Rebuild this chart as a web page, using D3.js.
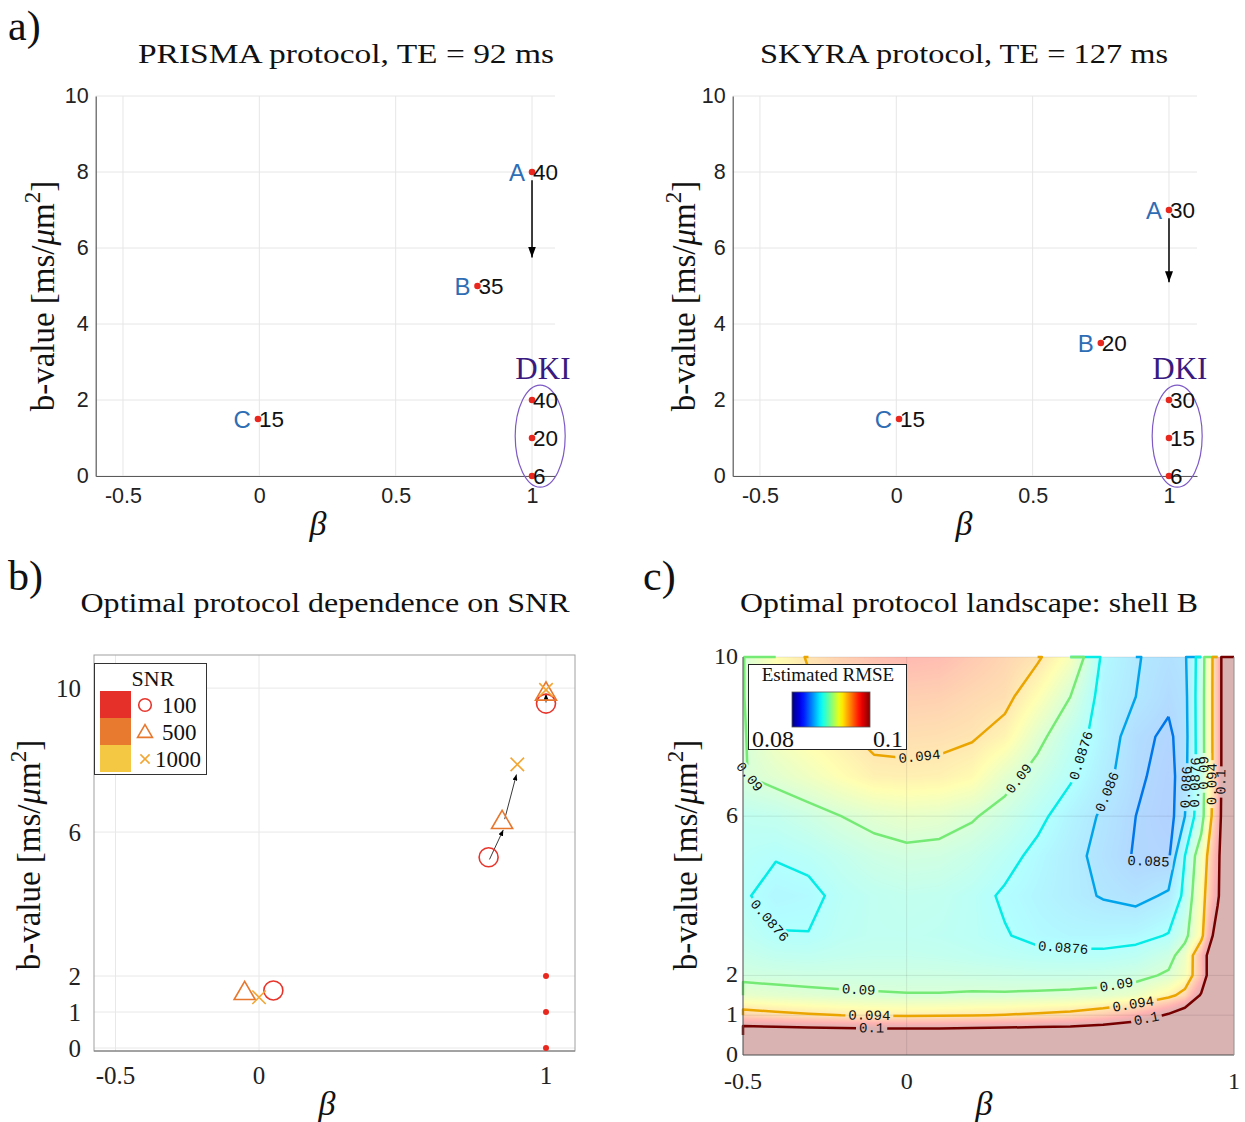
<!DOCTYPE html>
<html>
<head>
<meta charset="utf-8">
<script src="https://cdn.jsdelivr.net/npm/d3@7/dist/d3.min.js"></script>
<style>
html,body{margin:0;padding:0;background:#fff;}
svg{display:block;}
</style>
</head>
<body>
<svg id="fig" width="1245" height="1122" xmlns="http://www.w3.org/2000/svg"></svg>
<script>
// ================= DATA =================
// a) PRISMA protocol (beta, b-value, number of directions)
const prismaShell = ["A", "B", "C", "", "", ""];
const prismaBeta  = [1.0, 0.80, -0.005, 1.0, 1.0, 1.0];
const prismaB     = [8.0, 5.0, 1.5, 2.0, 1.0, 0.0];
const prismaDirs  = [40, 35, 15, 40, 20, 6];
const prismaArrow = [[1.0, 7.78], [1.0, 5.75]];
// a) SKYRA protocol
const skyraShell = ["A", "B", "C", "", "", ""];
const skyraBeta  = [1.0, 0.75, 0.01, 1.0, 1.0, 1.0];
const skyraB     = [7.0, 3.5, 1.5, 2.0, 1.0, 0.0];
const skyraDirs  = [30, 20, 15, 30, 15, 6];
const skyraArrow = [[1.0, 6.78], [1.0, 5.1]];
const dkiCentre   = [1.03, 1.05];
const dkiLabelPos = [1.04, 2.85];
const aTicksX = [-0.5, 0, 0.5, 1];
const aTicksY = [0, 2, 4, 6, 8, 10];

// b) optimal protocol vs SNR  (rows: SNR 100, 500, 1000; columns: shell C, B, A)
const snrLevels = [100, 500, 1000];
const snrBeta = [[0.05, 0.80, 1.0], [-0.05, 0.847, 1.0], [0.0, 0.90, 1.0]];
const snrB    = [[1.60, 5.30, 9.57], [1.56, 6.31, 9.88], [1.41, 7.88, 9.95]];
const dkiShellBeta = [1.0, 1.0, 1.0];
const dkiShellB    = [2.0, 1.0, 0.0];
const snrArrows = [[[0.803, 5.24], [0.851, 6.06]], [[0.856, 6.36], [0.897, 7.6]], [[1.0, 9.6], [1.0, 9.84]]];
const bTicksX = [-0.5, 0, 1];
const bTicksY = [0, 1, 2, 6, 10];

// c) estimated RMSE landscape for shell B
const landBeta = [-0.5, -0.4, -0.3, -0.2, -0.1, 0, 0.1, 0.2, 0.3, 0.4, 0.5, 0.6, 0.7, 0.8, 0.85, 0.9, 0.95, 1.0];
const landB    = [0, 0.5, 1, 1.5, 2, 2.5, 3, 4, 5, 6, 7, 8, 9, 10];
const rmseRows = [
  [0.1170,0.1170,0.1170,0.1170,0.1170,0.1170,0.1170,0.1170,0.1170,0.1170,0.1170,0.1180,0.1190,0.1210,0.1220,0.1240,0.1260,0.1300],
  [0.1040,0.1038,0.1036,0.1034,0.1032,0.1031,0.1032,0.1034,0.1036,0.1038,0.1040,0.1045,0.1055,0.1075,0.1090,0.1120,0.1160,0.1230],
  [0.0952,0.0947,0.0943,0.0940,0.0937,0.0936,0.0937,0.0939,0.0941,0.0944,0.0948,0.0958,0.0975,0.1005,0.1030,0.1070,0.1120,0.1200],
  [0.0910,0.0907,0.0905,0.0903,0.0902,0.0901,0.0901,0.0902,0.0902,0.0903,0.0904,0.0906,0.0912,0.0932,0.0950,0.1005,0.1090,0.1180],
  [0.0895,0.0894,0.0893,0.0893,0.0893,0.0893,0.0893,0.0892,0.0891,0.0890,0.0890,0.0891,0.0894,0.0903,0.0918,0.0965,0.1070,0.1160],
  [0.0889,0.0885,0.0884,0.0886,0.0887,0.0887,0.0886,0.0884,0.0882,0.0880,0.0879,0.0879,0.0882,0.0892,0.0912,0.0970,0.1060,0.1140],
  [0.0884,0.0877,0.08765,0.0882,0.0884,0.0884,0.0883,0.0881,0.0877,0.0872,0.0870,0.0870,0.0871,0.0877,0.0893,0.0930,0.1030,0.1130],
  [0.0878,0.0870,0.0872,0.0880,0.0884,0.0886,0.0885,0.0881,0.0874,0.0869,0.0864,0.0859,0.0856,0.0862,0.0880,0.0925,0.0990,0.1120],
  [0.0880,0.0877,0.0880,0.0886,0.0892,0.0895,0.0894,0.0889,0.0881,0.0872,0.0864,0.0856,0.0849,0.0848,0.0876,0.0915,0.0985,0.1120],
  [0.0884,0.0886,0.0892,0.0900,0.0906,0.0910,0.0908,0.0902,0.0892,0.0880,0.0868,0.0858,0.0850,0.0845,0.0860,0.0888,0.0970,0.1120],
  [0.0899,0.0906,0.0915,0.0925,0.0934,0.0935,0.0934,0.0928,0.0908,0.0892,0.0878,0.0864,0.0852,0.0846,0.0856,0.0886,0.0965,0.1120],
  [0.0898,0.0918,0.0928,0.0936,0.0945,0.0946,0.0945,0.0942,0.0932,0.0906,0.0885,0.0868,0.0853,0.0848,0.0855,0.0887,0.0965,0.1120],
  [0.0899,0.0922,0.0935,0.0942,0.0950,0.0956,0.0955,0.0950,0.0946,0.0925,0.0900,0.0868,0.0860,0.0852,0.0856,0.0887,0.0965,0.1120],
  [0.0899,0.0925,0.0942,0.0955,0.0965,0.0970,0.0968,0.0960,0.0952,0.0943,0.0920,0.0872,0.0861,0.0855,0.0858,0.0885,0.0965,0.1120]
];
const contourLevels = [0.085, 0.086, 0.0876, 0.09, 0.094, 0.1];
const contourLabels = ["0.085", "0.086", "0.0876", "0.09", "0.094", "0.1"];
const rmseRange = [0.08, 0.1];
const cTicksX = [-0.5, 0, 1];
const cTicksY = [0, 1, 2, 6, 10];

// ================= DRAWING =================
const svg = d3.select("#fig");
const SERIF = "'Liberation Serif','DejaVu Serif','Times New Roman',serif";
const SANS  = "'Liberation Sans',Arial,Helvetica,sans-serif";
const MONO  = "'Liberation Mono','DejaVu Sans Mono',monospace";
const defs = svg.append("defs");

function addMarker(id, w, h) {
  defs.append("marker").attr("id", id)
    .attr("viewBox", `0 0 ${w} ${h}`).attr("refX", w).attr("refY", h / 2)
    .attr("markerWidth", w).attr("markerHeight", h)
    .attr("markerUnits", "userSpaceOnUse").attr("orient", "auto")
    .append("path").attr("d", `M0,0 L${w},${h / 2} L0,${h} Z`).attr("fill", "#000");
}
addMarker("arrA", 11, 8);
addMarker("arrB", 6, 5);

function text(g, x, y, s, o = {}) {
  return g.append("text").attr("x", x).attr("y", y)
    .attr("font-family", o.family || SERIF).attr("font-size", o.size || 20)
    .attr("fill", o.fill || "#111").attr("text-anchor", o.anchor || "start")
    .attr("font-style", o.style || "normal")
    .attr("dominant-baseline", o.baseline || "auto").text(s);
}
function yLabel(x, y, size) {
  const t = svg.append("text").attr("transform", `translate(${x},${y}) rotate(-90)`)
    .attr("text-anchor", "middle").attr("font-family", SERIF).attr("font-size", size).attr("fill", "#111");
  t.append("tspan").text("b-value [ms/");
  t.append("tspan").attr("font-style", "italic").text("μ");
  t.append("tspan").text("m");
  t.append("tspan").attr("dy", -size * 0.42).attr("font-size", size * 0.7).text("2");
  t.append("tspan").attr("dy", size * 0.42).text("]");
}
function betaLabel(x, y) {
  text(svg, x, y, "β", {size: 34, style: "italic", anchor: "middle"});
}

// panel letters
text(svg, 8, 40, "a)", {size: 42});
text(svg, 8, 590, "b)", {size: 42});
text(svg, 643, 590, "c)", {size: 42});

// ---------- panel a ----------
function panelA(o) {
  const g = svg.append("g");
  const x = d3.scaleLinear().domain(o.xDom).range(o.xRange);
  const y = d3.scaleLinear().domain([0, 10]).range([476, 96]);
  g.append("g").selectAll("line").data(aTicksX).join("line")
    .attr("x1", d => x(d)).attr("x2", d => x(d)).attr("y1", y(0)).attr("y2", y(10))
    .attr("stroke", "#e6e6e6");
  g.append("g").selectAll("line").data(aTicksY).join("line")
    .attr("x1", o.xRange[0]).attr("x2", o.xRange[1]).attr("y1", d => y(d)).attr("y2", d => y(d))
    .attr("stroke", "#e6e6e6");
  const ax = g.append("g").attr("transform", `translate(0,${y(0)})`)
    .call(d3.axisBottom(x).tickValues(aTicksX).tickSize(0).tickSizeOuter(0).tickPadding(12).tickFormat(d => String(d)));
  const ay = g.append("g").attr("transform", `translate(${o.xRange[0]},0)`)
    .call(d3.axisLeft(y).tickValues(aTicksY).tickSize(0).tickSizeOuter(0).tickPadding(7).tickFormat(d => String(d)));
  [ax, ay].forEach(a => {
    a.select(".domain").attr("stroke", "#5a5a5a").attr("stroke-width", 1.2);
    a.selectAll("text").attr("font-family", SANS).attr("font-size", 21.5).attr("fill", "#222");
  });
  text(svg, o.titleX, 63, o.title, {size: 27, anchor: "middle"}).attr("textLength", o.titleW).attr("lengthAdjust", "spacingAndGlyphs");
  g.append("line").attr("x1", x(o.arrow[0][0])).attr("y1", y(o.arrow[0][1]))
    .attr("x2", x(o.arrow[1][0])).attr("y2", y(o.arrow[1][1]))
    .attr("stroke", "#000").attr("stroke-width", 1.5).attr("marker-end", "url(#arrA)");
  g.append("ellipse").attr("cx", x(dkiCentre[0])).attr("cy", y(dkiCentre[1]))
    .attr("rx", 25).attr("ry", 51).attr("fill", "none").attr("stroke", "#7d5ac6").attr("stroke-width", 1.2);
  text(g, x(dkiLabelPos[0]), y(dkiLabelPos[1]) + 11, "DKI", {size: 31, fill: "#3a1a80", anchor: "middle"});
  const pts = o.beta.map((b, i) => ({beta: b, b: o.b[i], shell: o.shell[i], n: o.dirs[i]}));
  g.selectAll("circle.pt").data(pts).join("circle").attr("class", "pt")
    .attr("cx", d => x(d.beta)).attr("cy", d => y(d.b)).attr("r", 3.3).attr("fill", "#e8281e");
  g.selectAll("text.sh").data(pts.filter(d => d.shell)).join("text").attr("class", "sh")
    .attr("x", d => x(d.beta) - 7).attr("y", d => y(d.b) + 8.5)
    .attr("text-anchor", "end").attr("font-family", SANS).attr("font-size", 24).attr("fill", "#2e6db4")
    .text(d => d.shell);
  g.selectAll("text.nd").data(pts).join("text").attr("class", "nd")
    .attr("x", d => x(d.beta) + 1).attr("y", d => y(d.b) + 8)
    .attr("font-family", SANS).attr("font-size", 22.5).attr("fill", "#111")
    .text(d => d.n);
  yLabel(o.yLabX, 296, 33);
  betaLabel(o.betaX, 535);
}
panelA({xDom: [-0.6, 1.0843], xRange: [95.7, 555], beta: prismaBeta, b: prismaB, shell: prismaShell, dirs: prismaDirs,
  arrow: prismaArrow, title: "PRISMA protocol, TE = 92 ms", titleX: 346, titleW: 416, yLabX: 54, betaX: 318});
panelA({xDom: [-0.6, 1.1027], xRange: [732.7, 1197], beta: skyraBeta, b: skyraB, shell: skyraShell, dirs: skyraDirs,
  arrow: skyraArrow, title: "SKYRA protocol, TE = 127 ms", titleX: 964, titleW: 408, yLabX: 695, betaX: 964});

// ---------- panel b ----------
(function () {
  const g = svg.append("g");
  const x = d3.scaleLinear().domain([-0.575, 1.101]).range([94, 575]);
  const y = d3.scaleLinear().domain([-0.083, 10.92]).range([1051, 655]);
  g.append("g").selectAll("line").data(bTicksX).join("line")
    .attr("x1", d => x(d)).attr("x2", d => x(d)).attr("y1", 655).attr("y2", 1051).attr("stroke", "#e8e8e8");
  g.append("g").selectAll("line").data(bTicksY).join("line")
    .attr("x1", 94).attr("x2", 575).attr("y1", d => y(d)).attr("y2", d => y(d)).attr("stroke", "#e8e8e8");
  g.append("rect").attr("x", 94).attr("y", 655).attr("width", 481).attr("height", 396)
    .attr("fill", "none").attr("stroke", "#a0a0a0").attr("stroke-width", 1);
  g.append("line").attr("x1", 94).attr("x2", 575).attr("y1", 1051).attr("y2", 1051).attr("stroke", "#777");
  g.selectAll("text.xt").data(bTicksX).join("text").attr("class", "xt")
    .attr("x", d => x(d)).attr("y", 1084).attr("text-anchor", "middle")
    .attr("font-family", SERIF).attr("font-size", 25).attr("fill", "#222").text(d => String(d));
  g.selectAll("text.yt").data(bTicksY).join("text").attr("class", "yt")
    .attr("x", 81).attr("y", d => y(d) + 8.5).attr("text-anchor", "end")
    .attr("font-family", SERIF).attr("font-size", 25).attr("fill", "#222").text(d => String(d));
  text(svg, 325, 612, "Optimal protocol dependence on SNR", {size: 27, anchor: "middle"}).attr("textLength", 489).attr("lengthAdjust", "spacingAndGlyphs");
  yLabel(40, 855, 33);
  betaLabel(327, 1115);

  const colors = ["#e8352b", "#e8772e", "#f2a735"];
  g.selectAll("line.arr").data(snrArrows).join("line").attr("class", "arr")
    .attr("x1", d => x(d[0][0])).attr("y1", d => y(d[0][1]))
    .attr("x2", d => x(d[1][0])).attr("y2", d => y(d[1][1]))
    .attr("stroke", "#222").attr("stroke-width", 0.9).attr("marker-end", "url(#arrB)");
  g.selectAll("circle.dki").data(dkiShellB).join("circle").attr("class", "dki")
    .attr("cx", (d, i) => x(dkiShellBeta[i])).attr("cy", d => y(d)).attr("r", 3).attr("fill", "#e8281e");
  function marker(sel, kind, size, color) {
    if (kind === 0) sel.append("circle").attr("r", size).attr("fill", "none").attr("stroke", color).attr("stroke-width", 1.6);
    else if (kind === 1) sel.append("path").attr("d", `M0,${-size * 0.62} L${size * 0.62},${size * 0.45} L${-size * 0.62},${size * 0.45} Z`)
      .attr("fill", "none").attr("stroke", color).attr("stroke-width", 1.6);
    else sel.append("path").attr("d", `M${-size * 0.42},${-size * 0.42} L${size * 0.42},${size * 0.42} M${-size * 0.42},${size * 0.42} L${size * 0.42},${-size * 0.42}`)
      .attr("fill", "none").attr("stroke", color).attr("stroke-width", 1.6);
  }
  const msize = [9.5, 17, 16];
  snrLevels.forEach((lev, k) => {
    snrBeta[k].forEach((bt, i) => {
      const m = g.append("g").attr("transform", `translate(${x(bt)},${y(snrB[k][i])})`);
      marker(m, k, msize[k], colors[k]);
    });
  });
  const L = g.append("g");
  L.append("rect").attr("x", 94.5).attr("y", 663.5).attr("width", 112).attr("height", 111)
    .attr("fill", "#fff").attr("stroke", "#333").attr("stroke-width", 1);
  text(L, 153, 686, "SNR", {size: 22, anchor: "middle"});
  const patch = ["#e5302a", "#e87a30", "#f5c844"];
  const lsize = [6.3, 12, 11];
  snrLevels.forEach((lev, k) => {
    L.append("rect").attr("x", 100).attr("y", 691 + k * 27).attr("width", 31).attr("height", 27).attr("fill", patch[k]);
    const m = L.append("g").attr("transform", `translate(145,${705 + k * 27})`);
    marker(m, k, lsize[k], colors[k]);
    text(L, k === 2 ? 155 : 162, 712.5 + k * 27, String(lev), {size: 23});
  });
})();

// ---------- panel c ----------
(function () {
  const g = svg.append("g");
  const X0 = 743, X1 = 1234, Y0 = 657, Y1 = 1055;
  const x = d3.scaleLinear().domain([-0.5, 1]).range([X0, X1]);
  const y = d3.scaleLinear().domain([0, 10]).range([Y1, Y0]);
  const nx = landBeta.length, ny = landB.length;
  const clamp01 = v => Math.max(0, Math.min(1, v));
  function jet(t) {
    t = clamp01(t);
    return [clamp01(1.5 - Math.abs(4 * t - 3)), clamp01(1.5 - Math.abs(4 * t - 2)), clamp01(1.5 - Math.abs(4 * t - 1))];
  }
  function sample(beta, bv) {
    let i = d3.bisectRight(landBeta, beta) - 1; i = Math.max(0, Math.min(nx - 2, i));
    let j = d3.bisectRight(landB, bv) - 1; j = Math.max(0, Math.min(ny - 2, j));
    const tx = clamp01((beta - landBeta[i]) / (landBeta[i + 1] - landBeta[i]));
    const ty = clamp01((bv - landB[j]) / (landB[j + 1] - landB[j]));
    const a = rmseRows[j][i] * (1 - tx) + rmseRows[j][i + 1] * tx;
    const b = rmseRows[j + 1][i] * (1 - tx) + rmseRows[j + 1][i + 1] * tx;
    return a * (1 - ty) + b * ty;
  }
  const cw = X1 - X0, ch = Y1 - Y0;
  const cv = document.createElement("canvas"); cv.width = cw; cv.height = ch;
  const ctx = cv.getContext("2d");
  const img = ctx.createImageData(cw, ch);
  const alpha = 0.3;
  for (let py = 0; py < ch; py++) {
    const bv = y.invert(Y0 + py + 0.5);
    for (let px = 0; px < cw; px++) {
      const bt = x.invert(X0 + px + 0.5);
      const v = sample(bt, bv);
      const c = jet((v - rmseRange[0]) / (rmseRange[1] - rmseRange[0]));
      const k = (py * cw + px) * 4;
      img.data[k] = 255 * (1 - alpha * (1 - c[0]));
      img.data[k + 1] = 255 * (1 - alpha * (1 - c[1]));
      img.data[k + 2] = 255 * (1 - alpha * (1 - c[2]));
      img.data[k + 3] = 255;
    }
  }
  ctx.putImageData(img, 0, 0);
  g.append("image").attr("x", X0).attr("y", Y0).attr("width", cw).attr("height", ch)
    .attr("preserveAspectRatio", "none").attr("href", cv.toDataURL());
  g.append("g").selectAll("line").data(cTicksX).join("line")
    .attr("x1", d => x(d)).attr("x2", d => x(d)).attr("y1", Y0).attr("y2", Y1).attr("stroke", "rgba(0,0,0,0.09)");
  g.append("g").selectAll("line").data(cTicksY).join("line")
    .attr("x1", X0).attr("x2", X1).attr("y1", d => y(d)).attr("y2", d => y(d)).attr("stroke", "rgba(0,0,0,0.09)");

  // contours
  const values = rmseRows.flat();
  const probe = d3.contours().size([2, 1]).thresholds([0.5])([0, 1]);
  let minX = Infinity;
  probe[0].coordinates.forEach(poly => poly.forEach(ring => ring.forEach(p => {
    if (p[0] > 0 && p[0] < 2 && p[1] > 0 && p[1] < 1) minX = Math.min(minX, p[0]);
  })));
  const off = isFinite(minX) ? minX - 0.5 : 0.5;
  const ix = d3.scaleLinear().domain(d3.range(nx)).range(landBeta).clamp(true);
  const iy = d3.scaleLinear().domain(d3.range(ny)).range(landB).clamp(true);
  const toPx = p => [x(ix(p[0] - off)), y(iy(p[1] - off))];
  const eps = 1e-6;
  const isB = p => p[0] <= eps || p[0] >= nx - eps || p[1] <= eps || p[1] >= ny - eps;
  function splitRing(ring) {
    const lines = []; let cur = [];
    for (let i = 0; i < ring.length - 1; i++) {
      const a = ring[i], b = ring[i + 1];
      if (isB(a) && isB(b)) { if (cur.length > 1) lines.push(cur); cur = []; continue; }
      if (cur.length === 0) cur.push(a);
      cur.push(b);
    }
    if (cur.length > 1) lines.push(cur);
    if (lines.length > 1 && !isB(ring[0])) { const last = lines.pop(); lines[0] = last.concat(lines[0].slice(1)); }
    return lines;
  }
  const cset = d3.contours().size([nx, ny]).thresholds(contourLevels)(values);
  const lineColor = v => { const c = jet((v - rmseRange[0]) / (rmseRange[1] - rmseRange[0])); return d3.rgb(c[0] * 235, c[1] * 235, c[2] * 235).toString(); };
  const polylines = [];
  cset.forEach((c, li) => {
    c.coordinates.forEach(poly => poly.forEach(ring => {
      splitRing(ring).forEach(l => polylines.push({level: c.value, li, pts: l.map(toPx)}));
    }));
  });
  const labels = [];
  polylines.forEach(pl => {
    const pts = pl.pts, cum = [0];
    for (let i = 1; i < pts.length; i++) cum.push(cum[i - 1] + Math.hypot(pts[i][0] - pts[i - 1][0], pts[i][1] - pts[i - 1][1]));
    const len = cum[cum.length - 1];
    if (len < 70) return;
    const n = Math.max(1, Math.floor(len / 215));
    const at = s => {
      s = Math.max(0, Math.min(len, s));
      let k = d3.bisectRight(cum, s) - 1; k = Math.max(0, Math.min(pts.length - 2, k));
      const seg = cum[k + 1] - cum[k] || 1, t = (s - cum[k]) / seg;
      return [pts[k][0] + (pts[k + 1][0] - pts[k][0]) * t, pts[k][1] + (pts[k + 1][1] - pts[k][1]) * t];
    };
    for (let q = 0; q < n; q++) {
      const s = (q + 0.5) * len / n;
      const p = at(s), a = at(s - 14), b = at(s + 14);
      let ang = Math.atan2(b[1] - a[1], b[0] - a[0]) * 180 / Math.PI;
      if (ang > 90) ang -= 180; if (ang < -90) ang += 180;
      labels.push({x: p[0], y: p[1], ang, txt: contourLabels[pl.li]});
    }
  });
  const mask = defs.append("mask").attr("id", "clabMask").attr("maskUnits", "userSpaceOnUse")
    .attr("x", 0).attr("y", 0).attr("width", 1245).attr("height", 1122);
  mask.append("rect").attr("x", 0).attr("y", 0).attr("width", 1245).attr("height", 1122).attr("fill", "#fff");
  labels.forEach(l => {
    const w = l.txt.length * 8.4 + 6;
    mask.append("rect").attr("x", -w / 2).attr("y", -7).attr("width", w).attr("height", 14).attr("fill", "#000")
      .attr("transform", `translate(${l.x},${l.y}) rotate(${l.ang})`);
  });
  const cl = g.append("g").attr("mask", "url(#clabMask)");
  cl.selectAll("path").data(polylines).join("path")
    .attr("d", d => d3.line()(d.pts)).attr("fill", "none")
    .attr("stroke", d => lineColor(d.level)).attr("stroke-width", 2.5).attr("stroke-linejoin", "round");
  g.append("g").selectAll("text").data(labels).join("text")
    .attr("transform", d => `translate(${d.x},${d.y}) rotate(${d.ang})`)
    .attr("text-anchor", "middle").attr("dominant-baseline", "central")
    .attr("font-family", MONO).attr("font-size", 14).attr("fill", "#111").text(d => d.txt);

  g.append("line").attr("x1", X0).attr("x2", X0).attr("y1", Y0).attr("y2", Y1).attr("stroke", "#555");
  g.append("line").attr("x1", X0).attr("x2", X1).attr("y1", Y1).attr("y2", Y1).attr("stroke", "#555");
  g.append("line").attr("x1", X1).attr("x2", X1).attr("y1", Y0).attr("y2", Y1).attr("stroke", "#999");
  g.selectAll("text.xt").data(cTicksX).join("text").attr("class", "xt")
    .attr("x", d => x(d)).attr("y", 1089).attr("text-anchor", "middle")
    .attr("font-family", SERIF).attr("font-size", 24).attr("fill", "#222").text(d => String(d));
  g.selectAll("text.yt").data(cTicksY).join("text").attr("class", "yt")
    .attr("x", 738).attr("y", d => y(d) + 7).attr("text-anchor", "end")
    .attr("font-family", SERIF).attr("font-size", 24).attr("fill", "#222").text(d => String(d));
  text(svg, 969, 612, "Optimal protocol landscape: shell B", {size: 27, anchor: "middle"}).attr("textLength", 458).attr("lengthAdjust", "spacingAndGlyphs");
  yLabel(697, 855, 33);
  betaLabel(984, 1115);

  const grad = defs.append("linearGradient").attr("id", "jetGrad");
  d3.range(0, 1.0001, 0.05).forEach(t => {
    const c = jet(t);
    grad.append("stop").attr("offset", t).attr("stop-color", d3.rgb(c[0] * 255, c[1] * 255, c[2] * 255).toString());
  });
  const L = g.append("g");
  L.append("rect").attr("x", 748.5).attr("y", 664.5).attr("width", 158).attr("height", 85)
    .attr("fill", "#fff").attr("stroke", "#222").attr("stroke-width", 1);
  text(L, 828, 681, "Estimated RMSE", {size: 19, anchor: "middle"});
  L.append("rect").attr("x", 792).attr("y", 692).attr("width", 78).attr("height", 35)
    .attr("fill", "url(#jetGrad)").attr("stroke", "#555").attr("stroke-width", 0.8);
  text(L, 752, 747, String(rmseRange[0]), {size: 24});
  text(L, 903, 747, String(rmseRange[1]), {size: 24, anchor: "end"});
})();
</script>
</body>
</html>
